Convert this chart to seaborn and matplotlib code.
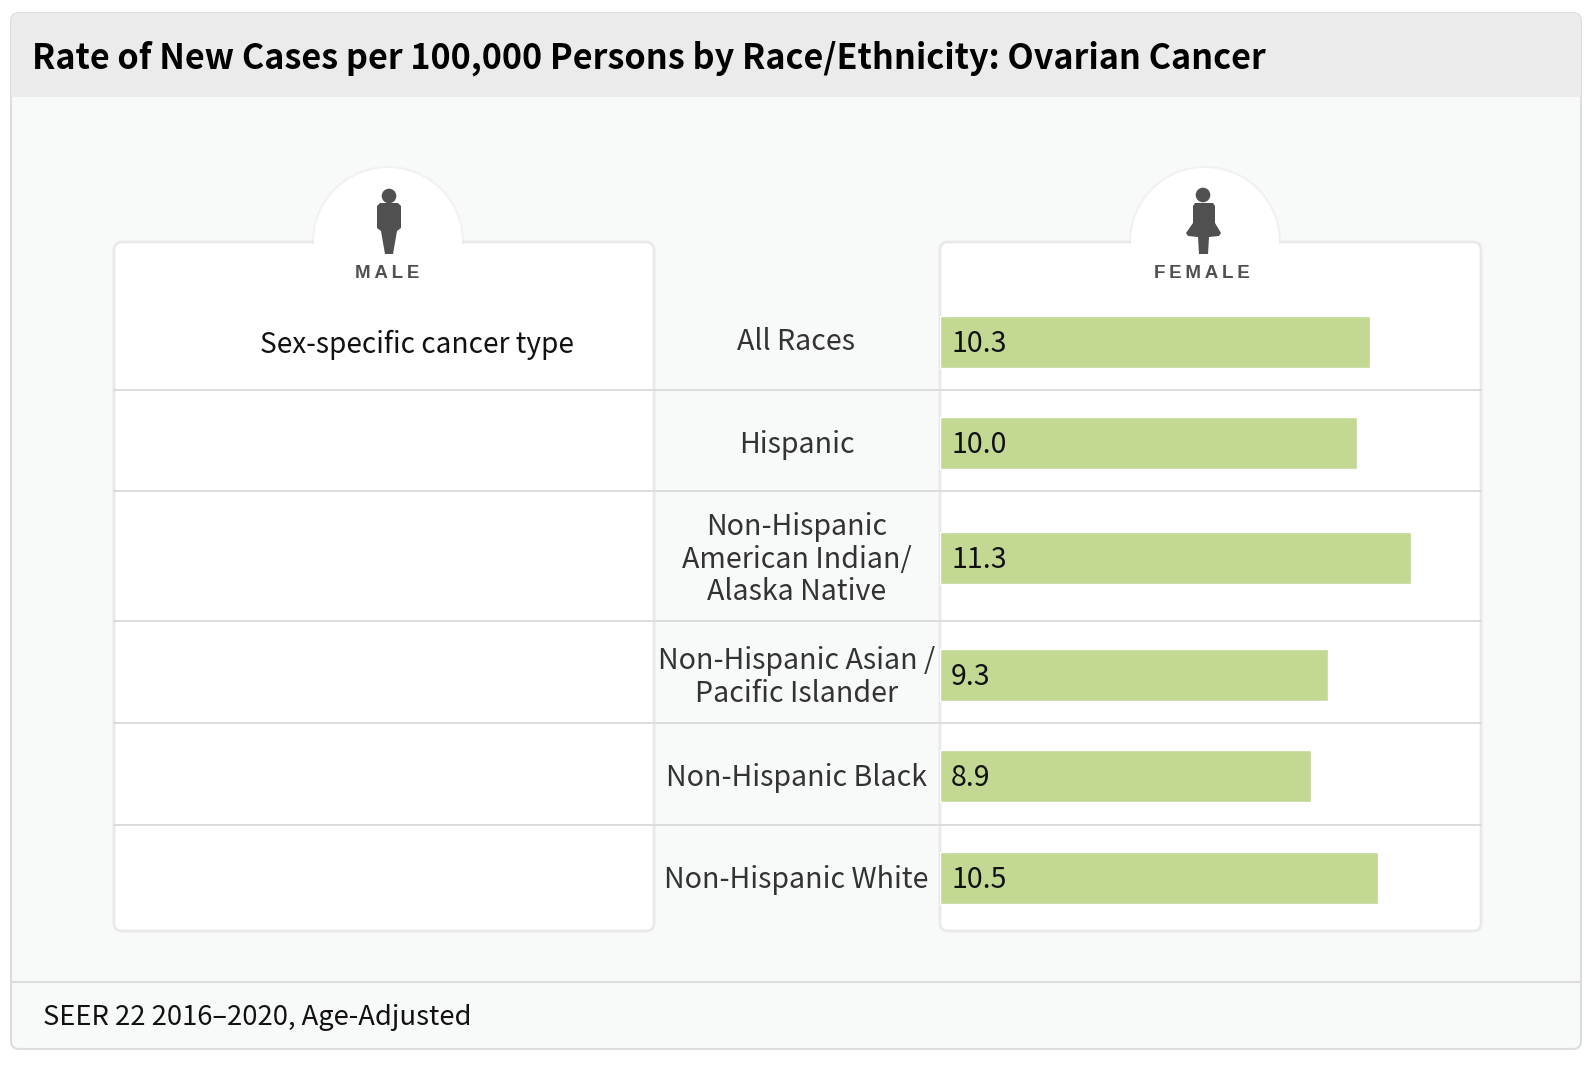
import numpy as np
import pandas as pd
import matplotlib
matplotlib.use("Agg")
import matplotlib.pyplot as plt
from matplotlib.patches import FancyBboxPatch, Rectangle, Circle, Polygon
import seaborn as sns

# ---- data ----
groups = ["All Races", "Hispanic", "Non-Hispanic\nAmerican Indian/\nAlaska Native",
          "Non-Hispanic Asian /\nPacific Islander", "Non-Hispanic Black", "Non-Hispanic White"]
female_rates = [10.3, 10.0, 11.3, 9.3, 8.9, 10.5]

title = "Rate of New Cases per 100,000 Persons by Race/Ethnicity: Ovarian Cancer"
footer = "SEER 22 2016\u20132020, Age-Adjusted"
male_note = "Sex-specific cancer type"

# ---- layout (pixels of the 1592x1068 figure) ----
W, H = 1592, 1068
row_centres = np.array([342.0, 443.0, 558.0, 675.0, 776.0, 878.0])
label_nudge = [-3.0, -1.5, -3.0, -2.0, -1.0, -1.0]
row_lines = [390, 491, 620.5, 723, 824.5]
bar_px = 52
panel_top, panel_bottom = 242, 931
male_x = (114, 654)
female_x = (940, 1481)
px_per_unit = 41.7

FONT = ["Noto Sans CJK SC", "DejaVu Sans"]
BAR = "#c2d893"
GRID = "#dcdcdc"
EDGE = "#e9e9e9"
INK = "#111111"
LABEL = "#333333"
ICON = "#505050"

sns.set_theme(style="white")
plt.rcParams["font.family"] = FONT

fig = plt.figure(figsize=(W / 100, H / 100), dpi=100, facecolor="white")

# ---- page furniture drawn in a pixel-coordinate backdrop ----
bg = fig.add_axes([0, 0, 1, 1], zorder=0)
bg.set_xlim(0, W)
bg.set_ylim(H, 0)
bg.axis("off")

card = FancyBboxPatch((11, 13), 1570, 1036, boxstyle="round,pad=0,rounding_size=8",
                      fc="#f8f9f9", ec="#dddddd", lw=1.5, zorder=1)
bg.add_patch(card)
head = Rectangle((11, 13), 1570, 84, fc="#ebebeb", ec="none", zorder=1.5)
bg.add_patch(head)
head.set_clip_path(card)
bg.plot([11, 1581], [982, 982], color="#dddddd", lw=1.5, zorder=2)

for x0, x1, cx in [(*male_x, 388), (*female_x, 1205)]:
    bg.add_patch(Circle((cx, panel_top), 75, fc="white", ec="#f1f1f1", lw=1.5, zorder=2))
    bg.add_patch(FancyBboxPatch((x0, panel_top), x1 - x0, panel_bottom - panel_top,
                                boxstyle="round,pad=0,rounding_size=8",
                                fc="white", ec=EDGE, lw=2, zorder=2.2))
    bg.add_patch(Rectangle((cx - 74, panel_top - 3), 148, 8, fc="white", ec="none", zorder=2.4))

for y in row_lines:
    bg.plot([114, 1481], [y, y], color=GRID, lw=1.4, zorder=3)

# icons
bg.add_patch(Circle((389, 196), 7.3, fc=ICON, ec="none", zorder=4))
bg.add_patch(Polygon([(380, 203), (398, 203), (401, 206), (401, 228), (397, 231), (393, 254),
                      (385, 254), (381, 231), (377, 228), (377, 206)], fc=ICON, ec="none", zorder=4))
bg.add_patch(Circle((1203, 195), 7.3, fc=ICON, ec="none", zorder=4))
bg.add_patch(Polygon([(1195, 203), (1213, 203), (1215, 206), (1215, 223), (1221, 233), (1219, 236),
                      (1209, 237), (1208, 254), (1199, 254), (1198, 237), (1188, 236), (1186, 233),
                      (1193, 223), (1193, 206)], fc=ICON, ec="none", zorder=4))
for label, cx in [("M\u2009A\u2009L\u2009E", 387.5), ("F\u2009E\u2009M\u2009A\u2009L\u2009E", 1202)]:
    bg.text(cx, 273.5, label, ha="center", va="center", fontsize=13.5, fontweight="bold",
            family=["Liberation Sans", "DejaVu Sans"], color=ICON, zorder=5)

bg.text(32, 58.5, title, ha="left", va="center", fontsize=24.6, fontweight="bold", color="black", zorder=5)
bg.text(43, 1017.5, footer, ha="left", va="center", fontsize=19.7, color=INK, zorder=5)
bg.text(417, 345, male_note, ha="center", va="center", fontsize=20.2, color=INK, zorder=5)

# ---- female bars ----
ax = fig.add_axes([female_x[0] / W, 1 - panel_bottom / H,
                   (female_x[1] - female_x[0]) / W, (panel_bottom - panel_top) / H],
                  zorder=1, facecolor="none")
df = pd.DataFrame({"row": row_centres, "rate": female_rates})
sns.barplot(data=df, x="rate", y="row", orient="h", native_scale=True, color=BAR, saturation=1,
            width=bar_px / np.diff(row_centres).min(), ax=ax)
ax.set_xlim(0, (female_x[1] - female_x[0]) / px_per_unit)
ax.set_ylim(panel_bottom, panel_top)
ax.set_xlabel("")
ax.set_ylabel("")
ax.set_xticks([])
ax.set_yticks(row_centres + np.array(label_nudge))
pad_pt = (female_x[0] - 796.5) * 72 / 100
ax.set_yticklabels(groups, ha="center", fontsize=20.6, color=LABEL, linespacing=1.09)
ax.tick_params(axis="y", length=0, pad=pad_pt)
sns.despine(ax=ax, left=True, bottom=True, top=True, right=True)

for y, v in zip(row_centres, female_rates):
    ax.annotate(f"{v:.1f}", (0, y + 2.5), xytext=(8, 0), textcoords="offset points",
                ha="left", va="center", fontsize=20.5, color=INK)

fig.savefig("out.png", dpi=100, facecolor="white")
